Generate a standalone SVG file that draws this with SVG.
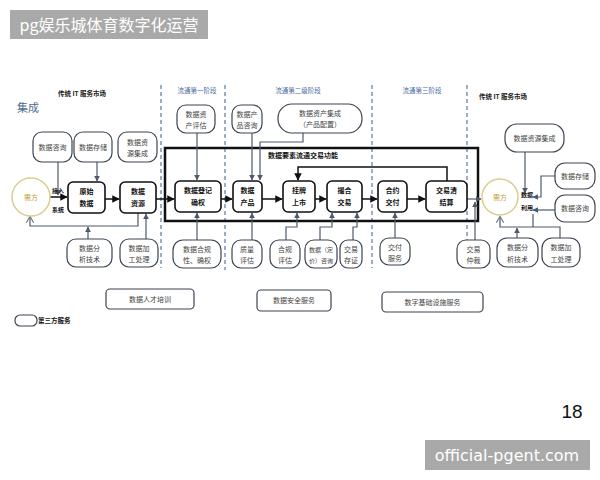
<svg xmlns="http://www.w3.org/2000/svg" width="600" height="480" viewBox="0 0 600 480">
<defs>
<marker id="ab" viewBox="0 0 10 10" refX="9" refY="5" markerWidth="5" markerHeight="5" orient="auto-start-reverse"><path d="M0,0 L10,5 L0,10 z" fill="#111"/></marker>
<marker id="ag" viewBox="0 0 10 10" refX="9" refY="5" markerWidth="5" markerHeight="5" orient="auto-start-reverse"><path d="M0,0 L10,5 L0,10 z" fill="#4d5a6e"/></marker>
<marker id="ao" viewBox="0 0 10 10" refX="8" refY="5" markerWidth="6" markerHeight="6" orient="auto-start-reverse"><path d="M0,0 L9,5 L0,10" fill="none" stroke="#6b7585" stroke-width="1.5"/></marker>
<style>
.tp{fill:#fff;stroke:#3d4350;stroke-width:1.2}
.mb{fill:#fff;stroke:#111;stroke-width:1.6}
.t{font-family:"Noto Sans CJK SC","Noto Sans",sans-serif;font-size:7px;fill:#444;text-anchor:middle}
.tb{font-weight:bold;fill:#111}
.st{font-family:"Noto Sans CJK SC",sans-serif;font-size:6.5px;fill:#4a6da0;text-anchor:middle}
.hd{font-family:"Noto Sans CJK SC",sans-serif;font-size:6.5px;fill:#222;font-weight:bold;text-anchor:middle}
.hdr{font-family:"Noto Sans CJK SC","Noto Sans",sans-serif;font-size:16px;fill:#fff;text-anchor:middle}
.ftr{font-family:"DejaVu Sans","Liberation Sans",sans-serif;font-size:16px;fill:#fff;text-anchor:middle}
.num{font-family:"Liberation Sans",Arial,sans-serif;font-size:19px;fill:#111;text-anchor:middle}
.ji{font-family:"Noto Sans CJK SC",sans-serif;font-size:11px;fill:#4a6a8a;text-anchor:middle}
.c{fill:none;stroke:#4d5a6e;stroke-width:1.2}
.f{fill:none;stroke:#111;stroke-width:1.5}
.d{stroke:#6a82a8;stroke-width:1.3;stroke-dasharray:4 3}
.nd{fill:#fff;stroke:#d8cf8f;stroke-width:1.5}
.nt{fill:#c8a040}
.sm{font-size:6px}
</style>
</defs>
<rect width="600" height="480" fill="#fff"/>
<g id="header">
<rect x="10" y="10" width="198" height="29" fill="#a9a9a9"/>
<text class="hdr" x="109" y="31">pg娱乐城体育数字化运营</text>
</g>
<g id="footer">
<text class="num" x="572" y="418">18</text>
<rect x="425" y="440" width="165" height="30" fill="#a9a9a9"/>
<text class="ftr" x="507" y="461">official-pgent.com</text>
</g>
<g id="stages">
<line class="d" x1="161" y1="85" x2="161" y2="268"/>
<line class="d" x1="225" y1="85" x2="225" y2="270"/>
<line class="d" x1="372" y1="85" x2="372" y2="268"/>
<line class="d" x1="467" y1="85" x2="467" y2="268"/>
<text class="hd" x="82" y="96">传统 IT 服务市场</text>
<text class="ji" x="28" y="112">集成</text>
<text class="st" x="197" y="93">流通第一阶段</text>
<text class="st" x="298" y="93">流通第二级阶段</text>
<text class="st" x="422" y="93">流通第三阶段</text>
<text class="hd" x="503" y="99">传统 IT 服务市场</text>
</g>
<g id="bigbox">
<rect x="165" y="148" width="313" height="73" fill="none" stroke="#111" stroke-width="2.5"/>
<text class="t tb" x="303" y="158">数据要素流通交易功能</text>
</g>
<g id="connectors">
<line class="f" x1="50" y1="197" x2="67" y2="197" stroke-width="2" marker-end="url(#ab)"/>
<line class="f" x1="105" y1="199" x2="119" y2="199" marker-end="url(#ab)"/>
<line class="f" x1="156" y1="199" x2="174" y2="199" marker-end="url(#ab)"/>
<line class="f" x1="221" y1="199" x2="232" y2="199" marker-end="url(#ab)"/>
<line class="f" x1="262" y1="199" x2="282" y2="199" marker-end="url(#ab)"/>
<line class="f" x1="315" y1="199" x2="326" y2="199" marker-end="url(#ab)"/>
<line class="f" x1="362" y1="199" x2="377" y2="199" marker-end="url(#ab)"/>
<line class="f" x1="407" y1="199" x2="425" y2="199" marker-end="url(#ab)"/>
<line class="c" x1="467" y1="199" x2="481" y2="199" marker-end="url(#ag)"/>
<polyline class="f" points="447,181 447,167 298,167 298,180" marker-end="url(#ab)"/>
<line class="c" x1="58" y1="162" x2="58" y2="195" marker-end="url(#ag)"/>
<line class="c" x1="97" y1="162" x2="97" y2="181" marker-end="url(#ag)"/>
<polyline class="c" points="138,213 138,226 30,226 30,217" marker-end="url(#ao)"/>
<line class="c" x1="88" y1="239" x2="88" y2="227" marker-end="url(#ag)"/>
<line class="c" x1="146" y1="239" x2="146" y2="214" marker-end="url(#ag)"/>
<line class="c" x1="197" y1="133" x2="197" y2="180" marker-end="url(#ag)"/>
<line class="c" x1="252" y1="133" x2="252" y2="180" marker-end="url(#ag)"/>
<polyline class="c" points="303,133 303,142 260,142 260,180" marker-end="url(#ag)"/>
<line class="c" x1="197" y1="240" x2="197" y2="213" marker-end="url(#ag)"/>
<line class="c" x1="252" y1="240" x2="252" y2="213" marker-end="url(#ag)"/>
<polyline class="c" points="286,240 286,227 297,227 297,213" marker-end="url(#ag)"/>
<polyline class="c" points="320,240 320,227 332,227 332,213" marker-end="url(#ag)"/>
<polyline class="c" points="353,240 353,227 357,227 357,213" marker-end="url(#ag)"/>
<line class="c" x1="395" y1="238" x2="395" y2="213" marker-end="url(#ag)"/>
<line class="c" x1="475" y1="240" x2="475" y2="202" marker-end="url(#ag)"/>
<line class="c" x1="525" y1="152" x2="525" y2="193" marker-end="url(#ag)"/>
<polyline class="c" points="555,176 541,176 541,197 533,197" marker-end="url(#ag)"/>
<line class="c" x1="555" y1="210" x2="533" y2="210" marker-end="url(#ag)"/>
<polyline class="c" points="560,238 560,227 500,227 500,217" marker-end="url(#ao)"/>
<line class="c" x1="533" y1="227" x2="533" y2="214"/>
<line class="c" x1="517" y1="238" x2="517" y2="228" marker-end="url(#ag)"/>
</g>
<g id="n-demand-left">
<circle class="nd" cx="31" cy="197" r="19"/>
<text class="t nt" x="31" y="199.5">需方</text>
<text class="t tb sm" x="58" y="193">接入</text>
<text class="t tb sm" x="58" y="212">系统</text>
</g>
<g id="n-consult-l"><rect class="tp" x="33" y="132" width="39" height="30" rx="9"/><text class="t" x="52.5" y="149.5">数据咨询</text></g>
<g id="n-storage-l"><rect class="tp" x="74" y="132" width="38" height="30" rx="9"/><text class="t" x="93" y="149.5">数据存储</text></g>
<g id="n-resint-l"><rect class="tp" x="118" y="132" width="39" height="30" rx="9"/><text class="t" x="137.5" y="144.5">数据资</text><text class="t" x="137.5" y="156">源集成</text></g>
<g id="n-raw"><rect class="mb" x="68" y="182" width="37" height="31" rx="5"/><text class="t tb" x="86.5" y="194">原始</text><text class="t tb" x="86.5" y="206">数据</text></g>
<g id="n-res"><rect class="mb" x="120" y="182" width="36" height="31" rx="5"/><text class="t tb" x="138" y="194">数据</text><text class="t tb" x="138" y="206">资源</text></g>
<g id="n-analysis-l"><rect class="tp" x="67" y="239" width="45" height="28" rx="9"/><text class="t" x="89.5" y="251">数据分</text><text class="t" x="89.5" y="262">析技术</text></g>
<g id="n-process-l"><rect class="tp" x="120" y="239" width="38" height="28" rx="9"/><text class="t" x="139" y="251">数据加</text><text class="t" x="139" y="262">工处理</text></g>
<g id="n-assess"><rect class="tp" x="177" y="105" width="38" height="28" rx="9"/><text class="t" x="196" y="117">数据资</text><text class="t" x="196" y="128">产评估</text></g>
<g id="n-prodconsult"><rect class="tp" x="232" y="105" width="30" height="28" rx="9"/><text class="t" x="247" y="117">数据产</text><text class="t" x="247" y="128">品咨询</text></g>
<g id="n-assetint"><rect class="tp" x="278" y="104" width="84" height="29" rx="14"/><text class="t" x="320" y="116">数据资产集成</text><text class="t" x="320" y="127">（产品配置）</text></g>
<g id="n-register"><rect class="mb" x="175" y="181" width="46" height="31" rx="5"/><text class="t tb" x="198" y="193">数据登记</text><text class="t tb" x="198" y="205">确权</text></g>
<g id="n-product"><rect class="mb" x="233" y="181" width="29" height="31" rx="5"/><text class="t tb" x="247.5" y="193">数据</text><text class="t tb" x="247.5" y="205">产品</text></g>
<g id="n-list"><rect class="mb" x="283" y="181" width="32" height="31" rx="5"/><text class="t tb" x="299" y="193">挂牌</text><text class="t tb" x="299" y="205">上市</text></g>
<g id="n-match"><rect class="mb" x="327" y="181" width="35" height="31" rx="5"/><text class="t tb" x="344.5" y="193">撮合</text><text class="t tb" x="344.5" y="205">交易</text></g>
<g id="n-contract"><rect class="mb" x="378" y="181" width="29" height="31" rx="5"/><text class="t tb" x="392.5" y="193">合约</text><text class="t tb" x="392.5" y="205">交付</text></g>
<g id="n-settle"><rect class="mb" x="426" y="181" width="41" height="31" rx="5"/><text class="t tb" x="446.5" y="193">交易清</text><text class="t tb" x="446.5" y="205">结算</text></g>
<g id="n-compliance"><rect class="tp" x="173" y="240" width="48" height="28" rx="10"/><text class="t" x="197" y="252">数据合规</text><text class="t" x="197" y="263">性、确权</text></g>
<g id="n-quality"><rect class="tp" x="232" y="240" width="30" height="28" rx="9"/><text class="t" x="247" y="252">质量</text><text class="t" x="247" y="263">评估</text></g>
<g id="n-compassess"><rect class="tp" x="270" y="240" width="30" height="28" rx="9"/><text class="t" x="285" y="252">合规</text><text class="t" x="285" y="263">评估</text></g>
<g id="n-pricing"><rect class="tp" x="305" y="240" width="32" height="28" rx="9"/><text class="t sm" x="321" y="252">数据（定</text><text class="t sm" x="321" y="263">价）咨询</text></g>
<g id="n-evidence"><rect class="tp" x="340" y="240" width="22" height="28" rx="8"/><text class="t" x="351" y="252">交易</text><text class="t" x="351" y="263">存证</text></g>
<g id="n-delivery"><rect class="tp" x="380" y="238" width="30" height="27" rx="9"/><text class="t" x="395" y="250">交付</text><text class="t" x="395" y="261">服务</text></g>
<g id="n-arbitration"><rect class="tp" x="457" y="240" width="33" height="28" rx="9"/><text class="t" x="473.5" y="252">交易</text><text class="t" x="473.5" y="263">仲裁</text></g>
<g id="n-demand-right">
<circle class="nd" cx="500" cy="197" r="18"/>
<text class="t nt" x="500" y="199.5">需方</text>
<text class="t tb sm" x="527" y="197">数据</text>
<text class="t tb sm" x="527" y="210">利用</text>
</g>
<g id="n-resint-r"><rect class="tp" x="505" y="124" width="59" height="28" rx="12"/><text class="t" x="534.5" y="140.5">数据资源集成</text></g>
<g id="n-storage-r"><rect class="tp" x="555" y="163" width="40" height="26" rx="10"/><text class="t" x="575" y="178.5">数据存储</text></g>
<g id="n-consult-r"><rect class="tp" x="555" y="195" width="40" height="27" rx="10"/><text class="t" x="575" y="211">数据咨询</text></g>
<g id="n-analysis-r"><rect class="tp" x="497" y="238" width="41" height="29" rx="10"/><text class="t" x="517.5" y="250">数据分</text><text class="t" x="517.5" y="262">析技术</text></g>
<g id="n-process-r"><rect class="tp" x="542" y="238" width="38" height="29" rx="10"/><text class="t" x="561" y="250">数据加</text><text class="t" x="561" y="262">工处理</text></g>
<g id="n-talent"><rect class="tp" x="106" y="289" width="88" height="20" rx="4"/><text class="t" x="150" y="301.5">数据人才培训</text></g>
<g id="n-security"><rect class="tp" x="257" y="290" width="74" height="21" rx="4"/><text class="t" x="294" y="302.5">数据安全服务</text></g>
<g id="n-infra"><rect class="tp" x="382" y="292" width="101" height="20" rx="4"/><text class="t" x="432.5" y="304.5">数字基础设施服务</text></g>
<g id="legend"><rect class="tp" x="15" y="315" width="22" height="11" rx="5" stroke-width="1.5"/><text class="t tb" x="38" y="323" style="text-anchor:start;font-size:6.5px">第三方服务</text></g>
</svg>
